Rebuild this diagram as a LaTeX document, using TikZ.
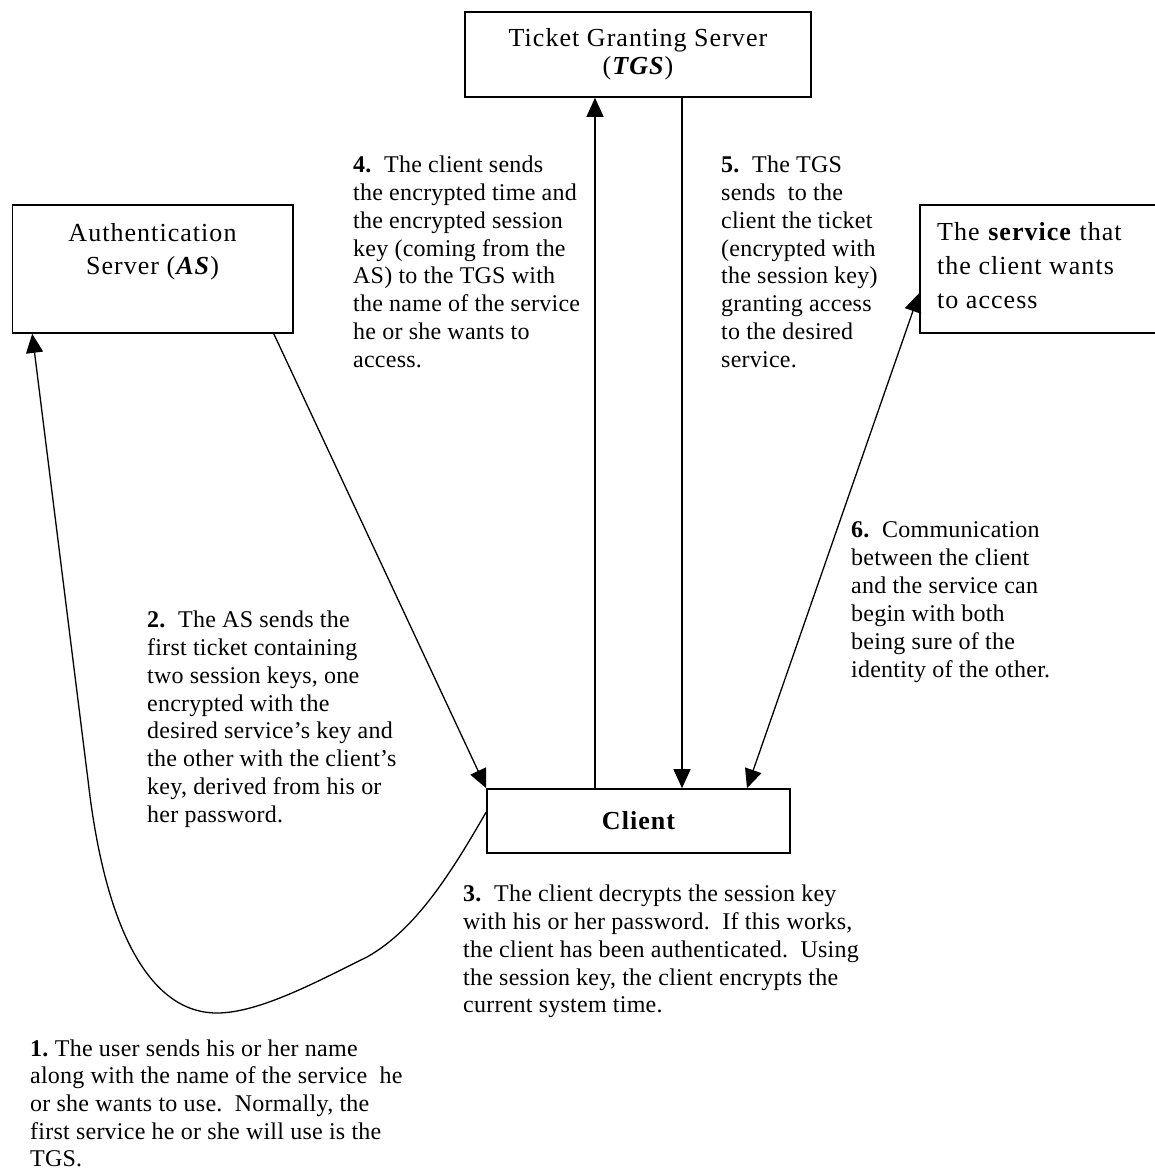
\documentclass[tikz,border=0pt]{standalone}
\usepackage{fontspec}
\setmainfont{Liberation Serif}[LetterSpace=1]
\newfontfamily\boxfont{Liberation Serif}[LetterSpace=4]
\usetikzlibrary{arrows.meta}

\begin{document}
\frenchspacing
\begin{tikzpicture}[x=1pt,y=-1pt,
  box/.style={draw,line width=1.6pt,inner sep=0pt},
  boxtext/.style={inner sep=0pt,font=\boxfont\fontsize{26}{#1}\selectfont},
  boxtext/.default=31.5,
  note/.style={anchor=north west,inner sep=0pt,align=left,
    font=\fontsize{24}{27.9}\selectfont},
  link/.style={line width=1.3pt,-{Triangle[length=19pt,width=17pt]}},
  twoway/.style={line width=1.3pt,{Triangle[length=19pt,width=17pt]}-{Triangle[length=19pt,width=17pt]}}]

\useasboundingbox (0,0) rectangle (1155,1171);
\clip (0,0) rectangle (1155,1171);

% servers and client
\node[box,minimum width=346pt,minimum height=85pt] (tgs) at (638,54.5) {};
\node[box,minimum width=280.5pt,minimum height=128pt] (as) at (152.75,269) {};
\node[box,minimum width=240pt,minimum height=128pt] (svc) at (1040,269) {};
\node[box,minimum width=303pt,minimum height=64pt,
      font=\boxfont\fontsize{26}{31.5}\selectfont\bfseries] (client) at (638.5,821) {Client};

% box captions
\node[boxtext=28.5,anchor=north,align=center] (tgslabel) at (638,28)
  {Ticket Granting Server\\(\textbf{\textit{TGS}})};
\node[boxtext=32.5,anchor=north,align=center] (aslabel) at (152.5,223.5)
  {Authentication\\Server (\textbf{\textit{AS}})};
\node[boxtext=34,anchor=north west,align=left] (svclabel) at (937,222.5)
  {The \textbf{service} that\\the client wants\\to access};

% step descriptions
\node[note] (s4) at (353,155.5)
  {\textbf{4.}\ \ The client sends\\the encrypted time and\\the encrypted session\\key (coming from the\\AS) to the TGS with\\the name of the service\\he or she wants to\\access.};
\node[note] (s5) at (721,155.5)
  {\textbf{5.}\ \ The TGS\\sends\ \ to the\\client the ticket\\(encrypted with\\the session key)\\granting access\\to the desired\\service.};
\node[note] (s6) at (851,521.5)
  {\textbf{6.}\ \ Communication\\between the client\\and the service can\\begin with both\\being sure of the\\identity of the other.};
\node[note] (s2) at (147,610.5)
  {\textbf{2.}\ \ The AS sends the\\first ticket containing\\two session keys, one\\encrypted with the\\desired service’s key and\\the other with the client’s\\key, derived from his or\\her password.};
\node[note] (s3) at (463,884.5)
  {\textbf{3.}\ \ The client decrypts the session key\\with his or her password.\ \ If this works,\\the client has been authenticated.\ \ Using\\the session key, the client encrypts the\\current system time.};
\node[note,font=\fontsize{24}{27.6}\selectfont] (s1) at (30,1039.5)
  {\textbf{1.} The user sends his or her name\\along with the name of the service\ \ he\\or she wants to use.\ \ Normally, the\\first service he or she will use is the\\TGS.};

% message flows
\draw[link] ([xshift=-43.5pt]client.north) -- ([xshift=-43pt]tgs.south);
\draw[link] ([xshift=44pt]tgs.south) -- ([xshift=43.5pt]client.north);
\draw[link] ([xshift=-20pt]as.south east) -- (client.north west);
\draw[twoway] ([yshift=-24pt]svc.west) -- ([xshift=108.5pt]client.north);
\draw[link] ([yshift=9pt]client.west)
  .. controls (450,875) and (415,930) .. (367,957)
  .. controls (320,980) and (260,1013) .. (217,1013)
  .. controls (150,1013) and (105,930) .. (88,780)
  -- ([xshift=20.5pt]as.south west);
\end{tikzpicture}
\end{document}
